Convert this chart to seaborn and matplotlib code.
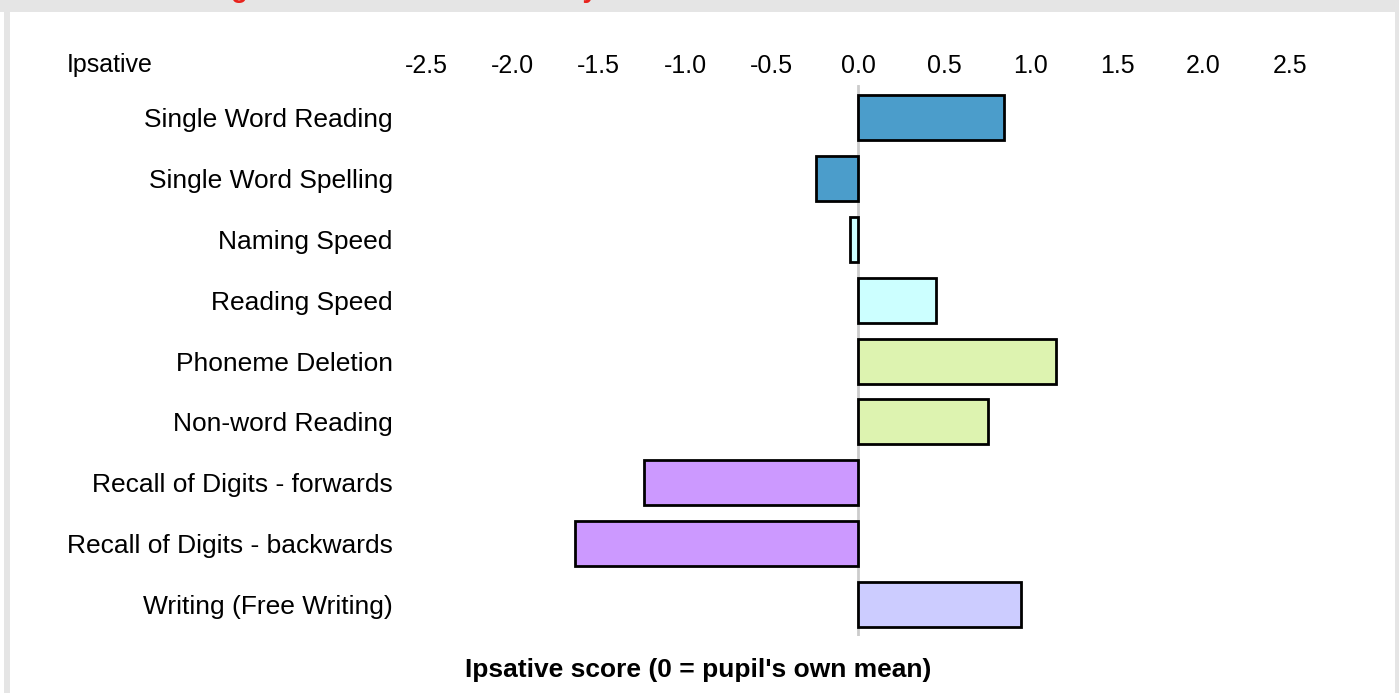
import matplotlib
matplotlib.use("Agg")
import matplotlib.pyplot as plt
import seaborn as sns
import pandas as pd
from matplotlib.patches import Rectangle

# --- Data ---
categories = [
    "Single Word Reading",
    "Single Word Spelling",
    "Naming Speed",
    "Reading Speed",
    "Phoneme Deletion",
    "Non-word Reading",
    "Recall of Digits - forwards",
    "Recall of Digits - backwards",
    "Writing (Free Writing)",
]
scores = [0.845, -0.245, -0.045, 0.45, 1.145, 0.75, -1.24, -1.635, 0.945]
bar_colors = ["#4b9dcb", "#4b9dcb", "#ccffff", "#ccffff", "#ddf3b0",
              "#ddf3b0", "#cc99ff", "#cc99ff", "#ccccff"]
tick_values = [-2.5, -2.0, -1.5, -1.0, -0.5, 0.0, 0.5, 1.0, 1.5, 2.0, 2.5]

df = pd.DataFrame({"test": categories, "score": scores})

# --- Style ---
sns.set_style("white")
plt.rcParams["font.family"] = ["Liberation Sans", "DejaVu Sans"]
plt.rcParams["text.color"] = "black"
plt.rcParams["xtick.color"] = "black"
plt.rcParams["ytick.color"] = "black"

W, H = 1399, 693
fig = plt.figure(figsize=(W / 100, H / 100), dpi=100, facecolor="#e5e5e5")

# white panel behind everything
fig.patches.append(Rectangle((10 / W, 0), 1385 / W, 681 / H, transform=fig.transFigure,
                             facecolor="white", edgecolor="none", zorder=-5))
fig.patches.append(Rectangle((0, 0), 4 / W, 681 / H, transform=fig.transFigure,
                             facecolor="white", edgecolor="none", zorder=-5))

# clipped red title at the very top
fig.text(43 / W, 1 + 3 / H, "Profile Showing Relative Areas of Difficulty",
         color="#e8231d", fontsize=19.5, fontweight="bold", va="baseline", ha="left")

ax = fig.add_axes([426 / W, 1 - 636 / H, 864 / W, 551 / H])
ax.set_facecolor("none")

ax.axvline(0, color="#cccccc", lw=2, zorder=0)
sns.barplot(data=df, x="score", y="test", hue="test", palette=bar_colors,
            legend=False, orient="h", width=0.74, saturation=1,
            edgecolor="black", linewidth=2, ax=ax, zorder=2)

ax.set_xlim(-2.5, 2.5)
ax.set_ylim(8.52, -0.54)
ax.set_xticks(tick_values)
ax.set_xticklabels([f"{v:.1f}" for v in tick_values])
ax.xaxis.tick_top()
ax.tick_params(axis="x", length=0, pad=5, labelsize=18)
ax.tick_params(axis="y", length=0, pad=24, labelsize=19)
ax.set_xlabel("")
ax.set_ylabel("")
for s in ax.spines.values():
    s.set_visible(False)

fig.text(67 / W, 1 - 65 / H, "Ipsative", fontsize=18, va="center", ha="left")
fig.text(698 / W, 1 - 670 / H, "Ipsative score (0 = pupil's own mean)",
         fontsize=19, fontweight="bold", va="center", ha="center")

fig.savefig("out.png", dpi=100, facecolor=fig.get_facecolor())
